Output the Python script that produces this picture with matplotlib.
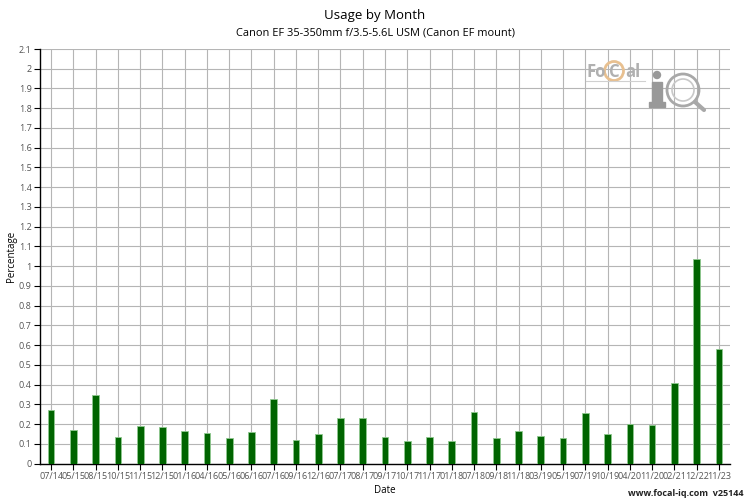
import numpy as np
import matplotlib.pyplot as plt
from matplotlib.patches import Circle, Rectangle

plt.rcParams['font.family'] = ['Open Sans', 'DejaVu Sans']

months = ["07/14", "05/15", "08/15", "10/15", "11/15", "12/15", "01/16", "04/16",
          "05/16", "06/16", "07/16", "09/16", "12/16", "07/17", "08/17", "09/17",
          "10/17", "11/17", "01/18", "07/18", "09/18", "11/18", "03/19", "05/19",
          "07/19", "10/19", "04/20", "11/20", "02/21", "12/22", "11/23"]
usage = [0.273, 0.172, 0.345, 0.132, 0.191, 0.186, 0.164, 0.154,
         0.128, 0.159, 0.326, 0.118, 0.147, 0.231, 0.233, 0.133,
         0.115, 0.135, 0.115, 0.261, 0.128, 0.167, 0.137, 0.127,
         0.256, 0.150, 0.199, 0.194, 0.407, 1.035, 0.578]
y_ticks = np.round(np.arange(0, 2.11, 0.1), 1)

fig = plt.figure(figsize=(7.5, 5), dpi=100)
ax = fig.add_axes([40 / 750, 1 - 463.5 / 500, 690 / 750, (463.5 - 49) / 500])

x = np.arange(len(months))
ax.bar(x, usage, width=0.3, color="#006400", edgecolor="#8fc88f", linewidth=0.6, zorder=3)

ax.set_xlim(-0.5, len(months) - 0.5)
ax.set_ylim(0, 2.1)
ax.set_xticks(x)
ax.set_xticklabels(months, fontsize=6.5, color="#555555")
ax.set_yticks(y_ticks)
ax.set_yticklabels([f"{t:g}" for t in y_ticks], fontsize=6.5, color="#555555")
ax.tick_params(axis="both", length=4, width=0.8, color="black", pad=2)
ax.grid(True, color="#b5b5b5", linewidth=0.8, zorder=0)
ax.set_axisbelow(True)

for side in ["top", "right"]:
    ax.spines[side].set_visible(False)
ax.spines["left"].set_linewidth(1)
ax.spines["bottom"].set_linewidth(1)

ax.set_xlabel("Date", fontsize=7, labelpad=3)
ax.set_ylabel("Percentage", fontsize=7)
ax.yaxis.set_label_coords((17 - 40) / 690, 0.5)

fig.text(0.5, 1 - 16 / 500, "Usage by Month", ha="center", va="center", fontsize=9.5)
fig.text(0.5, 1 - 33 / 500, "Canon EF 35-350mm f/3.5-5.6L USM (Canon EF mount)",
         ha="center", va="center", fontsize=7.9)
fig.text(1 - 7 / 750, 1 - 494 / 500, "www.focal-iq.com  v25144", ha="right", va="center",
         fontsize=6.5, fontweight="bold", color="#222222")

# watermark logo, drawn in pixel coordinates
logo = fig.add_axes([580 / 750, 1 - 115 / 500, 130 / 750, 60 / 500])
logo.set_xlim(580, 710)
logo.set_ylim(115, 55)
logo.axis("off")
logo.text(586, 72, "Fo", fontsize=12, color="#b0b0b0", fontweight="bold", va="center", ha="left")
logo.add_patch(Circle((614, 71), 9.5, fill=False, ec="#e8c090", lw=2))
logo.text(614, 72, "C", fontsize=12, color="#b0b0b0", fontweight="bold", va="center", ha="center")
logo.text(625, 72, "al", fontsize=12, color="#b0b0b0", fontweight="bold", va="center", ha="left")
logo.plot([586, 645], [81, 81], color="#d0d0d0", lw=0.8)
logo.add_patch(Circle((657, 75), 3.5, color="#999999"))
logo.add_patch(Rectangle((652, 82), 10, 24, color="#999999"))
logo.add_patch(Rectangle((649, 102), 16, 5, color="#999999"))
logo.add_patch(Circle((683, 90), 16, fill=False, ec="#a8a8a8", lw=2))
logo.add_patch(Circle((683, 90), 11, fill=False, ec="#c8c8c8", lw=1.2))
logo.plot([695, 704], [102, 110], color="#a8a8a8", lw=3, solid_capstyle="round")

plt.savefig("out.png", dpi=100)
plt.close()
